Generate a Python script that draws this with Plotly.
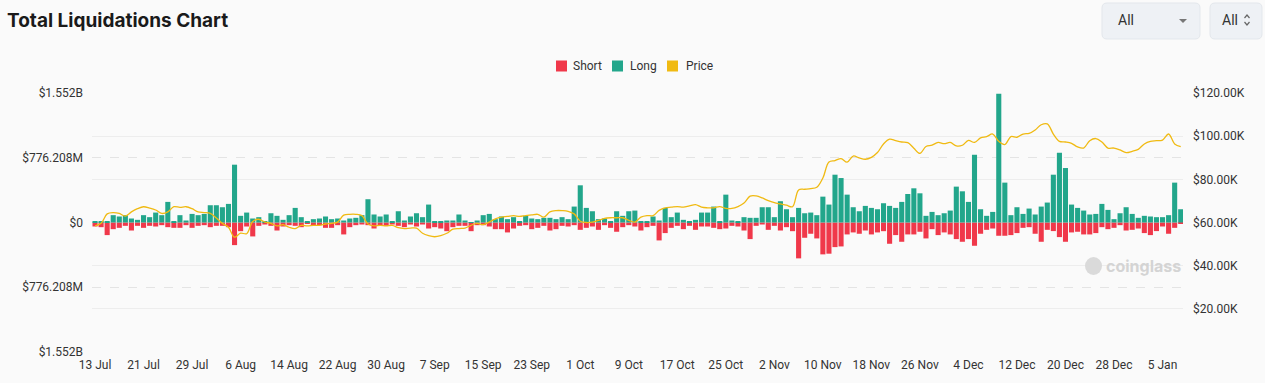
import plotly.graph_objects as go
import pandas as pd

# ---------------- data ----------------
start_date = "2024-07-13"
n_days = 180
dates = pd.date_range(start_date, periods=n_days, freq="D")

# Long liquidations (millions USD)
long_m = [16, 8, 16, 88, 72, 88, 48, 32, 88, 64,
          119, 88, 247, 16, 88, 24, 103, 88, 103, 207,
          207, 183, 223, 693, 80, 119, 48, 64, 8, 111,
          80, 32, 88, 175, 64, 8, 40, 48, 72, 40,
          48, 24, 48, 56, 88, 279, 96, 72, 96, 8,
          135, 24, 72, 111, 64, 215, 16, 16, 24, 24,
          96, 24, 4, 24, 88, 103, 40, 72, 40, 64,
          16, 80, 48, 40, 56, 56, 40, 64, 40, 191,
          446, 175, 135, 40, 48, 16, 135, 80, 135, 143,
          16, 16, 72, 24, 175, 64, 119, 32, 16, 32,
          119, 119, 191, 16, 334, 24, 16, 64, 56, 56,
          183, 183, 64, 255, 159, 64, 175, 111, 119, 88,
          310, 215, 573, 533, 334, 183, 135, 199, 175, 159,
          231, 199, 175, 247, 342, 410, 350, 80, 127, 88,
          111, 143, 430, 374, 247, 812, 159, 80, 127, 1544,
          478, 88, 183, 103, 167, 96, 191, 239, 573, 836,
          653, 215, 175, 143, 96, 103, 223, 151, 40, 111,
          183, 103, 56, 80, 72, 64, 64, 88, 478, 159]

# Short liquidations (millions USD, drawn below zero)
short_m = [48, 56, 151, 80, 64, 40, 96, 40, 64, 40,
           48, 32, 56, 64, 64, 32, 64, 40, 32, 56,
           40, 40, 56, 271, 104, 48, 167, 40, 24, 40,
           96, 48, 32, 40, 56, 16, 32, 32, 64, 64,
           32, 143, 56, 32, 24, 32, 72, 40, 40, 24,
           40, 56, 24, 48, 24, 72, 56, 72, 104, 56,
           40, 40, 104, 32, 32, 48, 80, 80, 119, 72,
           40, 32, 80, 64, 40, 96, 80, 40, 48, 32,
           88, 64, 48, 88, 32, 64, 111, 56, 32, 48,
           96, 56, 40, 215, 127, 64, 40, 80, 40, 88,
           48, 48, 64, 80, 72, 40, 48, 96, 199, 40,
           24, 88, 40, 96, 56, 104, 430, 183, 135, 191,
           382, 374, 295, 287, 143, 119, 135, 96, 143, 119,
           104, 255, 151, 231, 143, 143, 111, 191, 80, 151,
           119, 143, 199, 231, 199, 279, 135, 88, 72, 159,
           159, 151, 127, 64, 56, 135, 231, 88, 103, 175,
           231, 119, 111, 143, 143, 127, 56, 80, 64, 32,
           96, 88, 72, 127, 151, 103, 48, 135, 64, 16]

# BTC price (thousands USD)
price_k = [58.4, 59.6, 64.0, 64.6, 64.2, 63.0, 64.9, 66.4, 67.3, 66.7,
           65.8, 64.2, 64.9, 67.3, 67.0, 67.3, 66.4, 64.9, 64.6, 64.2,
           62.1, 59.6, 57.8, 53.2, 55.1, 54.8, 60.5, 61.5, 60.2, 59.6,
           58.4, 59.0, 57.8, 57.2, 58.7, 58.4, 58.7, 58.7, 59.3, 59.6,
           60.2, 63.4, 63.8, 63.8, 63.2, 59.3, 58.4, 58.7, 58.4, 58.7,
           57.6, 57.2, 57.4, 57.4, 55.0, 53.9, 53.4, 53.9, 55.0, 56.9,
           57.2, 57.4, 58.7, 59.6, 59.0, 60.2, 61.7, 62.5, 62.8, 63.2,
           62.8, 63.2, 63.5, 63.8, 62.5, 64.9, 65.5, 65.5, 65.2, 64.0,
           60.6, 60.0, 60.2, 61.0, 61.9, 62.2, 62.2, 62.2, 61.0, 60.2,
           62.5, 63.2, 63.2, 65.6, 66.8, 67.1, 67.4, 67.1, 67.7, 68.3,
           67.1, 66.8, 66.8, 67.4, 66.5, 66.5, 67.4, 69.0, 72.2, 72.3,
           71.4, 70.1, 69.2, 68.6, 68.0, 67.3, 75.1, 75.4, 75.7, 76.3,
           80.6, 88.0, 88.7, 89.6, 88.0, 90.8, 89.9, 89.3, 90.2, 92.4,
           96.4, 98.6, 97.9, 97.3, 97.0, 94.4, 92.0, 95.2, 95.8, 97.1,
           96.5, 97.1, 95.5, 95.8, 98.0, 97.1, 99.2, 99.8, 101.0, 97.6,
           96.1, 99.8, 99.5, 101.0, 101.3, 102.9, 105.3, 105.7, 101.0, 97.6,
           97.3, 96.7, 95.0, 94.5, 97.9, 98.9, 97.3, 94.5, 94.5, 93.6,
           92.4, 93.0, 93.9, 96.4, 97.6, 97.9, 98.2, 101.0, 96.4, 95.1]

left_tickvals = [-1552.416, -776.208, 0, 776.208, 1552.416]
left_ticktext = ["$1.552B", "$776.208M", "$0", "$776.208M", "$1.552B"]
right_tickvals_k = [20, 40, 60, 80, 100, 120]
right_ticktext = ["$20.00K", "$40.00K", "$60.00K", "$80.00K", "$100.00K", "$120.00K"]

series_names = ["Short", "Long", "Price"]
series_colors = ["#F0384A", "#22A68B", "#F0BA12"]

# ---------------- geometry helpers ----------------
W, H = 1265, 383
PL, PR, PT, PB = 92, 1183, 93, 352


def px(x):
    return (x - PL) / (PR - PL)


def py(y):
    return (PB - y) / (PB - PT)


def rrect(x0, y0, x1, y1, r):
    pts = [
        f"M{px(x0 + r)},{py(y0)}",
        f"L{px(x1 - r)},{py(y0)}",
        f"Q{px(x1)},{py(y0)} {px(x1)},{py(y0 + r)}",
        f"L{px(x1)},{py(y1 - r)}",
        f"Q{px(x1)},{py(y1)} {px(x1 - r)},{py(y1)}",
        f"L{px(x0 + r)},{py(y1)}",
        f"Q{px(x0)},{py(y1)} {px(x0)},{py(y1 - r)}",
        f"L{px(x0)},{py(y0 + r)}",
        f"Q{px(x0)},{py(y0)} {px(x0 + r)},{py(y0)}",
        "Z",
    ]
    return " ".join(pts)


# ---------------- figure ----------------
fig = go.Figure()

fig.add_trace(go.Bar(
    x=dates, y=[-v for v in short_m], name=series_names[0],
    marker=dict(color=series_colors[0], line=dict(width=0)),
    showlegend=False, yaxis="y",
))
fig.add_trace(go.Bar(
    x=dates, y=long_m, name=series_names[1],
    marker=dict(color=series_colors[1], line=dict(width=0)),
    showlegend=False, yaxis="y",
))
fig.add_trace(go.Scatter(
    x=dates, y=[p * 1000 for p in price_k], name=series_names[2],
    mode="lines", line=dict(color=series_colors[2], width=1.3, shape="spline", smoothing=1.0),
    showlegend=False, yaxis="y2",
))

shapes = []
annotations = []

# Title
annotations.append(dict(
    x=px(5), y=py(21), xref="paper", yref="paper", xanchor="left", yanchor="middle",
    text="<b>Total Liquidations Chart</b>", showarrow=False,
    font=dict(family="Inter, Roboto, sans-serif", size=19, color="#1a1a1a"),
))

# Manual legend
legend_sq_x = [556, 612, 667]
legend_tx_x = [571, 628, 684]
for name, col, sx, tx in zip(series_names, series_colors, legend_sq_x, legend_tx_x):
    shapes.append(dict(type="rect", xref="paper", yref="paper",
                       x0=px(sx), x1=px(sx + 11), y0=py(71.5), y1=py(60.5),
                       fillcolor=col, line=dict(width=0)))
    annotations.append(dict(x=px(tx), y=py(66), xref="paper", yref="paper",
                            xanchor="left", yanchor="middle", text=name, showarrow=False,
                            font=dict(family="Roboto, sans-serif", size=12, color="#333333")))

# Dropdown controls (top right)
shapes.append(dict(type="path", xref="paper", yref="paper", path=rrect(1102, 3, 1200, 39, 5),
                   fillcolor="#EEF1F5", line=dict(color="#E3E7EC", width=1)))
shapes.append(dict(type="path", xref="paper", yref="paper", path=rrect(1210, 3, 1262, 39, 5),
                   fillcolor="#EEF1F5", line=dict(color="#E3E7EC", width=1)))
annotations.append(dict(x=px(1116), y=py(20), xref="paper", yref="paper", xanchor="left",
                        yanchor="middle", text="All", showarrow=False,
                        font=dict(family="Roboto, sans-serif", size=14, color="#333333")))
annotations.append(dict(x=px(1220), y=py(20), xref="paper", yref="paper", xanchor="left",
                        yanchor="middle", text="All", showarrow=False,
                        font=dict(family="Roboto, sans-serif", size=14, color="#333333")))
shapes.append(dict(type="path", xref="paper", yref="paper",
                   path=f"M{px(1179)},{py(19)} L{px(1187)},{py(19)} L{px(1183)},{py(23)} Z",
                   fillcolor="#777777", line=dict(width=0)))
shapes.append(dict(type="path", xref="paper", yref="paper",
                   path=f"M{px(1244.5)},{py(18)} L{px(1247)},{py(15)} L{px(1249.5)},{py(18)}",
                   line=dict(color="#666666", width=1.2)))
shapes.append(dict(type="path", xref="paper", yref="paper",
                   path=f"M{px(1244.5)},{py(22)} L{px(1247)},{py(25)} L{px(1249.5)},{py(22)}",
                   line=dict(color="#666666", width=1.2)))

# Watermark
shapes.append(dict(type="circle", xref="paper", yref="paper",
                   x0=px(1085), x1=px(1102), y0=py(275), y1=py(257),
                   fillcolor="#DADADA", line=dict(width=0)))
annotations.append(dict(x=px(1104), y=py(266), xref="paper", yref="paper", xanchor="left",
                        yanchor="middle", text="<b>coinglass</b>", showarrow=False,
                        font=dict(family="Inter, Roboto, sans-serif", size=16, color="#D4D4D4")))

fig.update_layout(
    width=W, height=H,
    margin=dict(l=PL, r=W - PR, t=PT, b=H - PB, pad=0),
    paper_bgcolor="#FAFAFA", plot_bgcolor="#FAFAFA",
    barmode="relative", bargap=0.16,
    font=dict(family="Roboto, sans-serif", size=12, color="#333333"),
    xaxis=dict(
        type="date",
        range=["2024-07-12 12:00", "2025-01-08 09:00"],
        tick0=start_date, dtick=8 * 86400000, tickformat="%-d %b",
        showgrid=False, zeroline=False, showline=False, ticks="",
        tickfont=dict(size=12, color="#333333"),
        ticklabelstandoff=4,
    ),
    yaxis=dict(
        range=[-1552.416, 1552.416], tickvals=left_tickvals, ticktext=left_ticktext,
        showgrid=True, gridcolor="#E4E4E4", griddash="dash", gridwidth=1,
        zeroline=False, showline=False, ticks="",
        tickfont=dict(size=12, color="#333333"), ticklabelstandoff=8,
    ),
    yaxis2=dict(
        overlaying="y", side="right", range=[0, 120000],
        tickvals=[v * 1000 for v in right_tickvals_k], ticktext=right_ticktext,
        showgrid=True, gridcolor="#EDEDED", gridwidth=1,
        zeroline=False, showline=False, ticks="",
        tickfont=dict(size=12, color="#333333"), ticklabelstandoff=9,
    ),
    shapes=shapes,
    annotations=annotations,
    showlegend=False,
    hovermode="x unified",
)

fig.write_html("out.html", config={"displayModeBar": False},
               post_script="document.body.style.margin='0';document.body.style.overflow='hidden';")
